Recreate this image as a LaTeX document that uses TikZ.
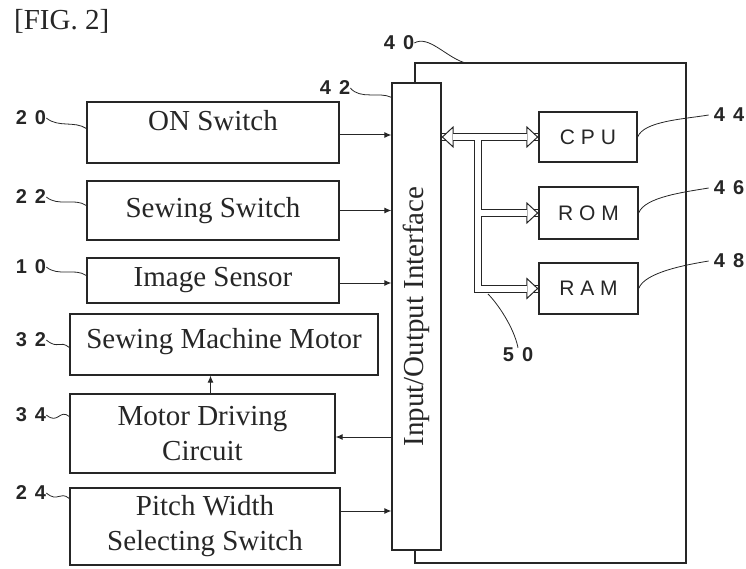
\documentclass[tikz,border=0pt]{standalone}
\usepackage{graphicx}
\usepackage{fontspec}
\setmainfont{Liberation Serif}
\newfontfamily\chipfont[LetterSpace=28]{Liberation Sans}
\newfontfamily\numfont[LetterSpace=40,BoldFont={Liberation Sans Bold}]{Liberation Sans}
\usetikzlibrary{arrows.meta,calc}

\begin{document}
\begin{tikzpicture}[x=1pt,y=-1pt,>={Latex[length=7pt,width=6pt]},
  font=\fontsize{29}{35}\selectfont,color=black!85,
  blk/.style={draw,line width=1.3pt,inner sep=0pt,align=center},
  chip/.style={blk,font=\chipfont\fontsize{21}{24}\selectfont},
  num/.style={font=\numfont\bfseries\fontsize{20}{22}\selectfont,inner sep=0pt},
  lead/.style={line width=0.8pt},
  sig/.style={line width=1pt,->},
  bus/.style={double,double distance=6pt,line width=1pt},
  busend/.style={white,line width=6pt,-{Triangle[open,fill=white,color=black!85,line width=1pt,length=12pt,width=22pt]}},
  busgap/.style={white,line width=6pt}]
 \useasboundingbox (0,0) rectangle (746,569);
 \node[anchor=west,inner sep=0pt] (fig) at (14,21) {[FIG. 2]};
 % ---- controller
 \node[blk,minimum width=271pt,minimum height=500pt] (ctl) at (550.5,313) {};
 \node[blk,fill=white,minimum width=49pt,minimum height=467pt] (io) at (416.5,316.5) {\rotatebox{90}{Input/Output Interface}};
 \node[chip,minimum width=98pt,minimum height=50pt] (cpu) at (588,137) {CPU};
 \node[chip,minimum width=99pt,minimum height=52pt] (rom) at (588.5,213) {ROM};
 \node[chip,minimum width=99pt,minimum height=51pt] (ram) at (588.5,288.5) {RAM};
 % ---- switches, sensor, motor
 \node[blk,minimum width=252pt,minimum height=61pt,text depth=24pt] (on) at (213,132.5) {ON Switch};
 \node[blk,minimum width=252pt,minimum height=59pt] (sew) at (213,210.5) {Sewing Switch};
 \node[blk,minimum width=252pt,minimum height=45pt] (img) at (213,280.5) {Image Sensor};
 \node[blk,minimum width=308pt,minimum height=61pt,text depth=12pt] (smm) at (224,344.5) {Sewing Machine Motor};
 \node[blk,minimum width=265pt,minimum height=79pt] (mdc) at (202.5,433.5) {Motor Driving\\Circuit};
 \node[blk,minimum width=270pt,minimum height=77pt] (pws) at (205,526.5) {Pitch Width\\Selecting Switch};
 % ---- reference numerals
 \node[num] (l20) at (31,118) {20};
 \node[num] (l22) at (31,197) {22};
 \node[num] (l10) at (31,267) {10};
 \node[num] (l32) at (31,340) {32};
 \node[num] (l34) at (31,415) {34};
 \node[num] (l24) at (31,493) {24};
 \node[num] (l42) at (335,88) {42};
 \node[num] (l40) at (399,43) {40};
 \node[num] (l44) at (729,115) {44};
 \node[num] (l46) at (729,188) {46};
 \node[num] (l48) at (729,261) {48};
 \node[num] (l50) at (518,355) {50};
 \draw[lead] (l20.east) .. controls +(12,10) and +(-12,-8) .. ([yshift=4pt]on.west);
 \draw[lead] (l22.east) .. controls +(12,10) and +(-12,-8) .. ([yshift=5pt]sew.west);
 \draw[lead] (l10.east) .. controls +(12,10) and +(-12,-8) .. ([yshift=5pt]img.west);
 \draw[lead] (l32.east) .. controls +(12,10) and +(-10,-8) .. ([yshift=-3pt]smm.west);
 \draw[lead] (l34.east) .. controls +(12,10) and +(-10,-8) .. ([yshift=17pt]mdc.west);
 \draw[lead] (l24.east) .. controls +(12,10) and +(-10,-8) .. ([yshift=28pt]pws.west);
 \draw[lead] (l42.east) .. controls +(10,12) and +(-12,-6) .. ([yshift=-15pt]io.north west);
 \draw[lead] (l40.east) .. controls +(14,-8) and +(-18,-6) .. ([xshift=-87pt]ctl.north);
 \draw[lead] (cpu.east) .. controls +(6,-16) and +(-24,4) .. ([xshift=-5pt]l44.west);
 \draw[lead] (rom.east) .. controls +(6,-16) and +(-24,4) .. ([xshift=-5pt]l46.west);
 \draw[lead] (ram.east) .. controls +(6,-16) and +(-24,4) .. ([xshift=-5pt]l48.west);
 % ---- signal lines
 \draw[sig] ([yshift=-2.5pt]on.east) -- ([yshift=-2.5pt]on.east -| io.west);
 \draw[sig] (sew.east) -- (sew.east -| io.west);
 \draw[sig] ([yshift=-2.5pt]img.east) -- ([yshift=-2.5pt]img.east -| io.west);
 \draw[sig] ([yshift=15.5pt]pws.east) -- ([yshift=15.5pt]pws.east -| io.west);
 \draw[sig] ([yshift=-3.5pt]io.west |- mdc.east) -- ([yshift=-3.5pt]mdc.east);
 \draw[sig] ([xshift=8pt]mdc.north) -- ([xshift=8pt]mdc.north |- smm.south);
 % ---- bus 50
 \coordinate (trk) at (478,137);
 \coordinate (b50) at (488,294);
 \draw[bus] (io.east |- cpu.west) -- (cpu.west) (trk) |- (ram.west) (trk |- rom.west) -- (rom.west);
 \foreach \t in {cpu,rom,ram} {
  \draw[busend] ([xshift=-18pt]\t.west) -- (\t.west);
  \draw[busgap] ([xshift=-18pt]\t.west) -- ([xshift=-11pt]\t.west);
 }
 \draw[busend] ([xshift=18pt]io.east |- cpu.west) -- (io.east |- cpu.west);
 \draw[busgap] ([xshift=18pt]io.east |- cpu.west) -- ([xshift=11pt]io.east |- cpu.west);
 \draw[lead] (b50) .. controls +(10,10) and +(-4,-20) .. (l50.north);
\end{tikzpicture}
\end{document}
